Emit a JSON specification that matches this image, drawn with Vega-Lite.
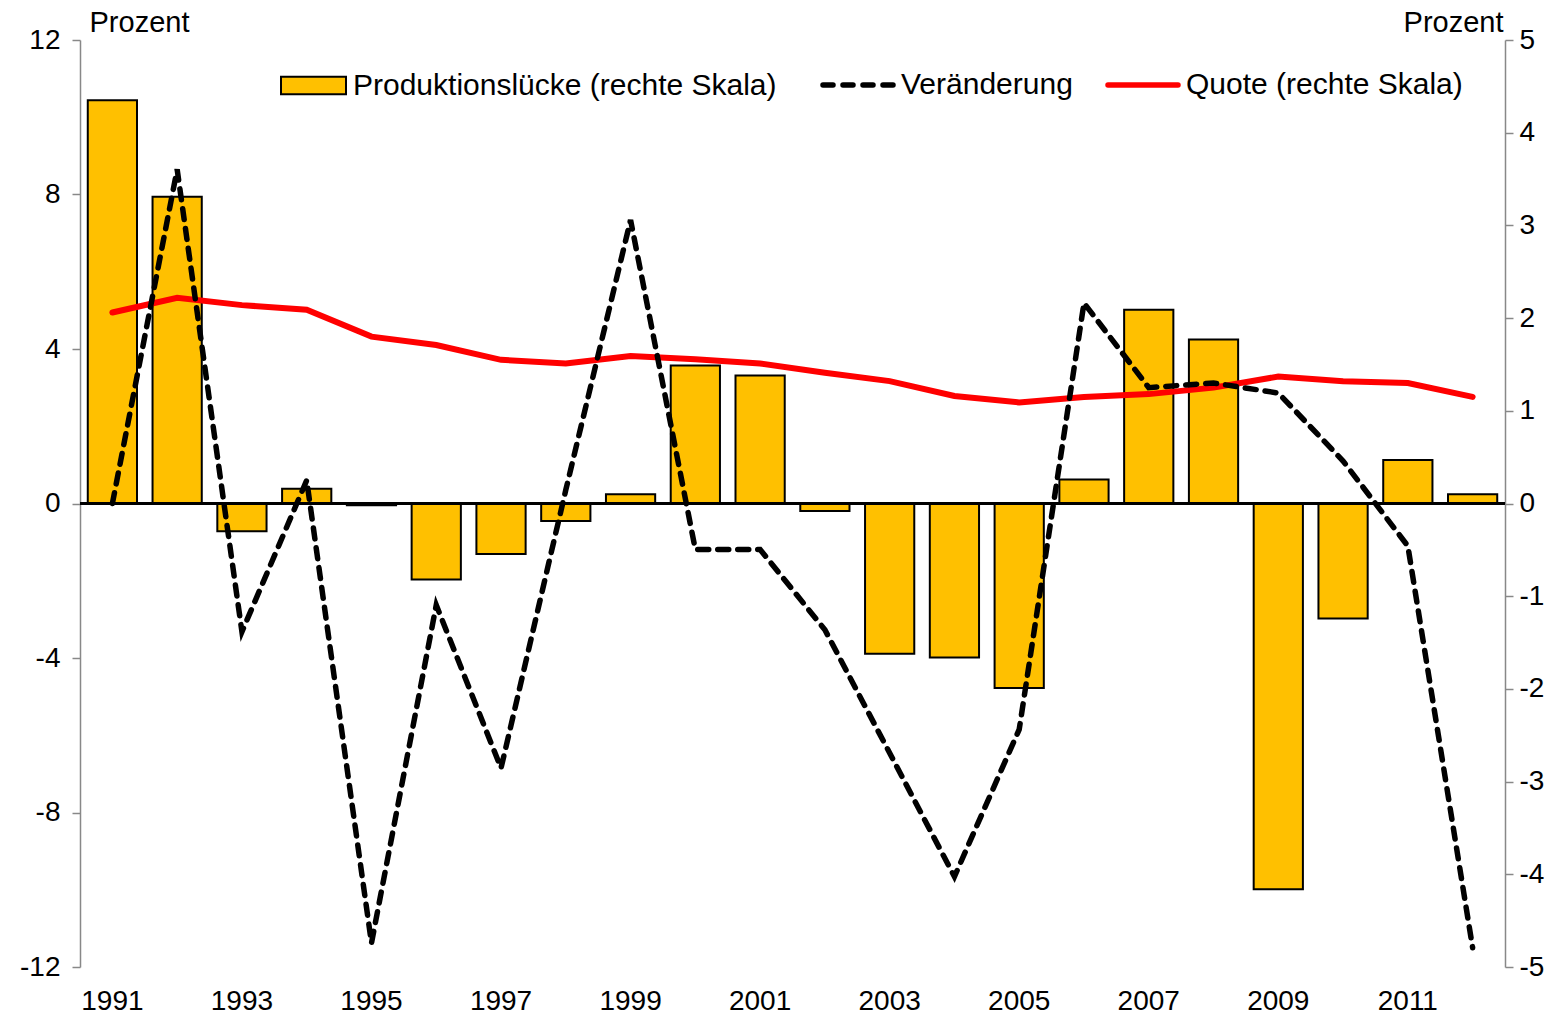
{
  "$schema": "https://vega.github.io/schema/vega-lite/v6.json",
  "width": 1425,
  "height": 927,
  "autosize": {"type": "none"},
  "padding": {"left": 80, "top": 40, "right": 61, "bottom": 57},
  "background": "white",
  "config": {
    "font": "Liberation Sans",
    "view": {"stroke": null},
    "axis": {"labelFont": "Liberation Sans", "titleFont": "Liberation Sans", "labelColor": "black", "titleColor": "black", "grid": false},
    "legend": {"labelFont": "Liberation Sans", "labelColor": "black", "labelLimit": 0}
  },
  "data": {
    "values": [
      {"year": 1991, "gap": 4.35, "change": 0.0, "quote": 2.06},
      {"year": 1992, "gap": 3.31, "change": 8.65, "quote": 2.22},
      {"year": 1993, "gap": -0.30, "change": -3.32, "quote": 2.14},
      {"year": 1994, "gap": 0.16, "change": 0.6, "quote": 2.09},
      {"year": 1995, "gap": -0.02, "change": -11.38, "quote": 1.80},
      {"year": 1996, "gap": -0.82, "change": -2.63, "quote": 1.71},
      {"year": 1997, "gap": -0.545, "change": -6.85, "quote": 1.55},
      {"year": 1998, "gap": -0.19, "change": 0.35, "quote": 1.51},
      {"year": 1999, "gap": 0.10, "change": 7.34, "quote": 1.59},
      {"year": 2000, "gap": 1.49, "change": -1.19, "quote": 1.555},
      {"year": 2001, "gap": 1.38, "change": -1.19, "quote": 1.51},
      {"year": 2002, "gap": -0.08, "change": -3.27, "quote": 1.41},
      {"year": 2003, "gap": -1.62, "change": -6.46, "quote": 1.32},
      {"year": 2004, "gap": -1.66, "change": -9.66, "quote": 1.16},
      {"year": 2005, "gap": -1.99, "change": -5.85, "quote": 1.09},
      {"year": 2006, "gap": 0.26, "change": 5.19, "quote": 1.15},
      {"year": 2007, "gap": 2.09, "change": 3.0, "quote": 1.18},
      {"year": 2008, "gap": 1.77, "change": 3.12, "quote": 1.25},
      {"year": 2009, "gap": -4.16, "change": 2.86, "quote": 1.37},
      {"year": 2010, "gap": -1.24, "change": 1.1, "quote": 1.32},
      {"year": 2011, "gap": 0.47, "change": -1.1, "quote": 1.30},
      {"year": 2012, "gap": 0.10, "change": -11.5, "quote": 1.15}
    ]
  },
  "encoding": {
    "x": {
      "field": "year",
      "type": "ordinal",
      "scale": {"paddingInner": 0.24, "paddingOuter": 0.12},
      "axis": {
        "title": null,
        "orient": "bottom",
        "domain": false,
        "ticks": false,
        "labelAngle": 0,
        "labelFontSize": 28,
        "labelPadding": 20,
        "values": [1991, 1993, 1995, 1997, 1999, 2001, 2003, 2005, 2007, 2009, 2011]
      }
    }
  },
  "layer": [
    {
      "layer": [
        {
          "mark": {"type": "bar", "stroke": "black", "strokeWidth": 2},
          "encoding": {
            "y": {
              "field": "gap",
              "type": "quantitative",
              "scale": {"domain": [-5, 5], "nice": false, "zero": false},
              "axis": {
                "orient": "right",
                "title": "Prozent",
                "titleAngle": 0,
                "titleFontSize": 29,
                "titleFontWeight": "normal",
                "titleAlign": "right",
                "titleBaseline": "middle",
                "titleX": -2,
                "titleY": -18,
                "values": [-5, -4, -3, -2, -1, 0, 1, 2, 3, 4, 5],
                "labelExpr": "'' + datum.value",
                "labelFontSize": 28,
                "labelPadding": 6,
                "tickSize": 8,
                "tickColor": "#888888",
                "domainColor": "#888888",
                "domainWidth": 1.5,
                "tickWidth": 1.5
              }
            },
            "fill": {
              "datum": "Produktionslücke (rechte Skala)",
              "scale": {"range": ["#FFC000"]},
              "legend": {
                "title": null,
                "orient": "none",
                "legendX": 200,
                "legendY": 12,
                "padding": 0,
                "symbolType": "M-1,-0.27L1,-0.27L1,0.27L-1,0.27Z",
                "symbolSize": 4225,
                "symbolStrokeColor": "black",
                "symbolStrokeWidth": 2,
                "labelFontSize": 30,
                "labelOffset": 6,
                "labelLimit": 0
              }
            }
          }
        },
        {
          "mark": {"type": "rule", "color": "black", "strokeWidth": 2.5},
          "encoding": {"y": {"datum": 0}, "x": null}
        },
        {
          "mark": {"type": "line", "strokeWidth": 6, "strokeCap": "round"},
          "encoding": {
            "y": {"field": "quote", "type": "quantitative"},
            "stroke": {
              "datum": "Quote (rechte Skala)",
              "scale": {"domain": ["Veränderung", "Quote (rechte Skala)"], "range": ["black", "#FF0000"]},
              "legend": {
                "title": null,
                "orient": "none",
                "direction": "horizontal",
                "legendX": 740,
                "legendY": 7,
                "padding": 0,
                "symbolType": "stroke",
                "symbolSize": 4900,
                "symbolStrokeWidth": 5.5,
                "labelFontSize": 30,
                "labelOffset": 5,
                "labelLimit": 0,
                "columnPadding": 24,
                "encode": {
                  "symbols": {
                    "update": {
                      "strokeDash": {"signal": "datum.value === 'Veränderung' ? [10, 10] : [1, 0]"},
                      "strokeCap": {"value": "round"}
                    }
                  }
                }
              }
            }
          }
        }
      ]
    },
    {
      "mark": {"type": "line", "strokeWidth": 5.5, "strokeDash": [11, 9], "strokeCap": "round"},
      "encoding": {
        "y": {
          "field": "change",
          "type": "quantitative",
          "scale": {"domain": [-12, 12], "nice": false, "zero": false},
          "axis": {
            "orient": "left",
            "title": "Prozent",
            "titleAngle": 0,
            "titleFontSize": 29,
            "titleFontWeight": "normal",
            "titleAlign": "left",
            "titleBaseline": "middle",
            "titleX": 9,
            "titleY": -18,
            "values": [-12, -8, -4, 0, 4, 8, 12],
            "labelExpr": "'' + datum.value",
            "labelFontSize": 28,
            "labelPadding": 12,
            "tickSize": 8,
            "tickColor": "#888888",
            "domainColor": "#888888",
            "domainWidth": 1.5,
            "tickWidth": 1.5
          }
        },
        "stroke": {"datum": "Veränderung"}
      }
    }
  ],
  "resolve": {"scale": {"y": "independent"}}
}
